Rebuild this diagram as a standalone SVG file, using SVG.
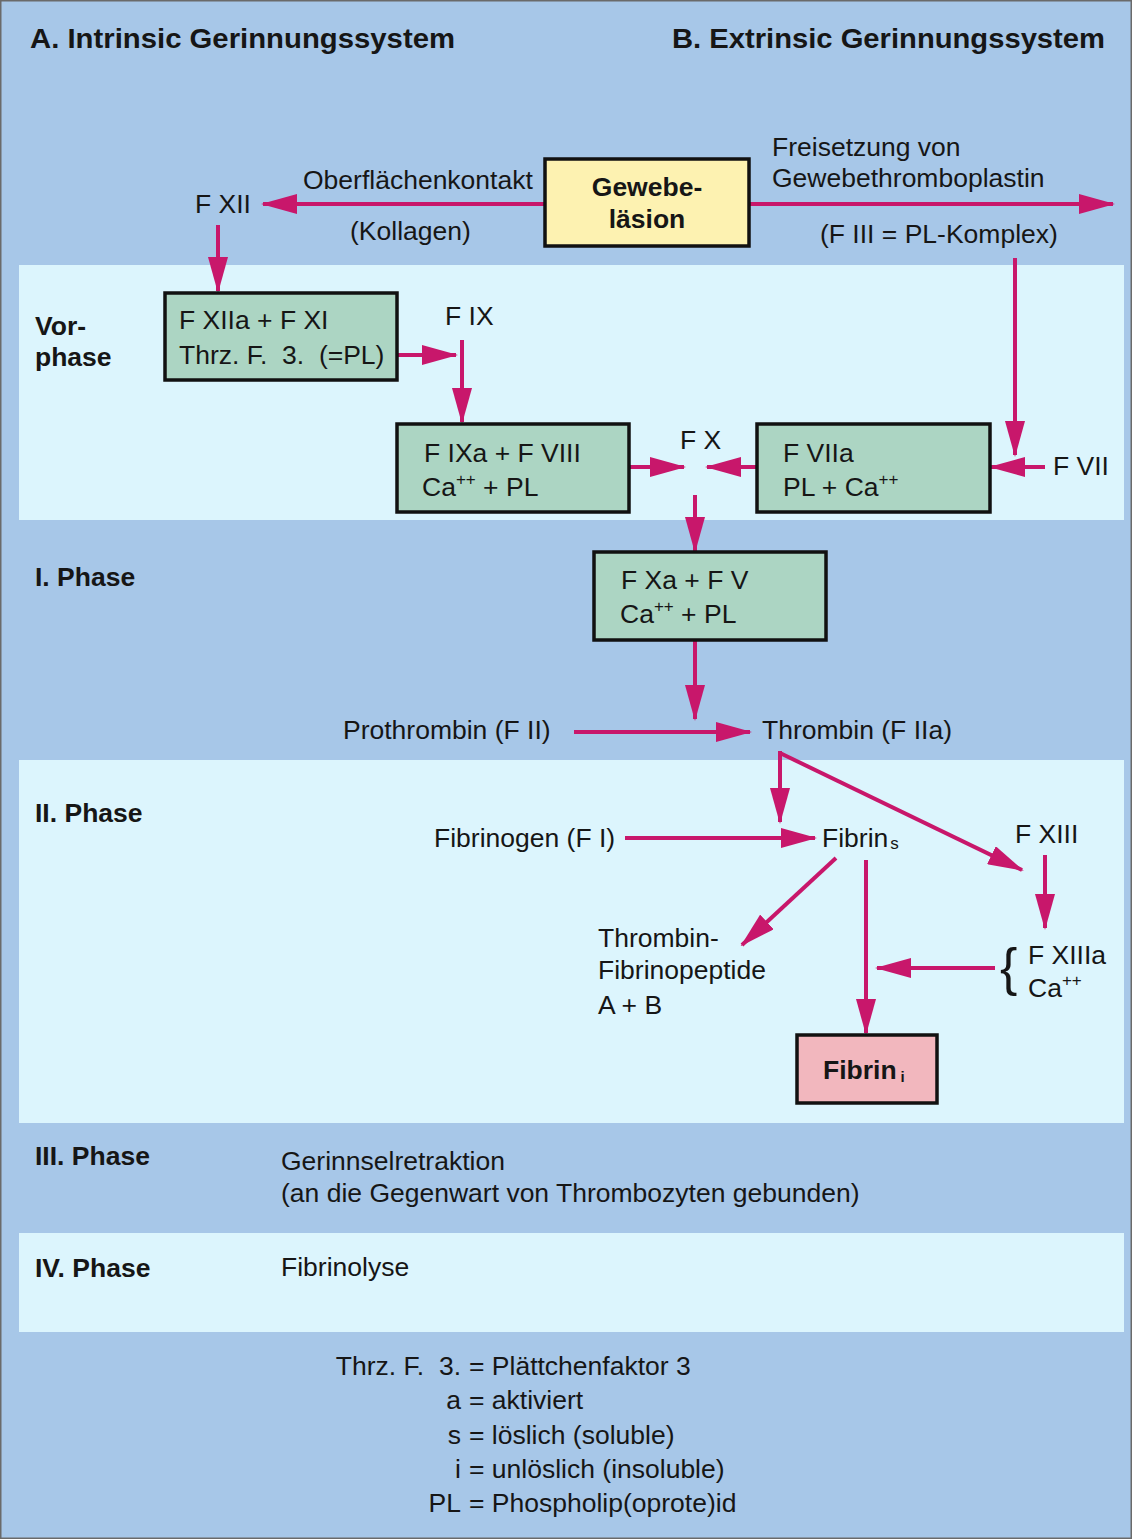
<svg xmlns="http://www.w3.org/2000/svg" width="1132" height="1539" viewBox="0 0 1132 1539">
<style>
text{font-family:"Liberation Sans",Arial,sans-serif;fill:#161616;font-size:26.5px;white-space:pre}
.b{font-weight:bold}
.t{font-size:27px;font-weight:bold}
.sup{font-size:17px}
.brace{font-size:52px}
.band{fill:#dcf5fd}
.g{fill:#acd5c3;stroke:#111;stroke-width:3.5}
.y{fill:#fdf2b1;stroke:#111;stroke-width:3.5}
.p{fill:#f2b7be;stroke:#111;stroke-width:3.5}
.c{stroke:#c8176b;stroke-width:4;fill:none}
.a{marker-end:url(#ah)}
</style>
<defs>
<marker id="ah" markerUnits="userSpaceOnUse" markerWidth="36" markerHeight="20" refX="34" refY="10" orient="auto">
<path d="M0,0 L36,10 L0,20 Z" fill="#c8176b"/>
</marker>
</defs>
<rect x="0.75" y="0.75" width="1130.5" height="1537.5" fill="#a7c7e8" stroke="#6a6a6a" stroke-width="1.5"/>
<g id="bands">
<rect class="band" x="19" y="265" width="1105" height="255"/>
<rect class="band" x="19" y="760" width="1105" height="363"/>
<rect class="band" x="19" y="1233" width="1105" height="99"/>
</g>
<g id="titles">
<text class="t" x="30" y="48" textLength="425" lengthAdjust="spacingAndGlyphs">A. Intrinsic Gerinnungssystem</text>
<text class="t" x="672" y="48" textLength="433" lengthAdjust="spacingAndGlyphs">B. Extrinsic Gerinnungssystem</text>
</g>
<g id="phases">
<text class="b" x="35" y="335">Vor-</text>
<text class="b" x="35" y="366">phase</text>
<text class="b" x="35" y="586">I. Phase</text>
<text class="b" x="35" y="822">II. Phase</text>
<text class="b" x="35" y="1165">III. Phase</text>
<text class="b" x="35" y="1277">IV. Phase</text>
</g>
<g id="connectors">
<line class="c a" x1="545" y1="204" x2="263" y2="204"/>
<line class="c a" x1="749" y1="204" x2="1113" y2="204"/>
<line class="c a" x1="218" y1="225" x2="218" y2="291"/>
<line class="c a" x1="397" y1="355" x2="456" y2="355"/>
<line class="c a" x1="462" y1="340" x2="462" y2="422"/>
<line class="c a" x1="629" y1="467" x2="684" y2="467"/>
<line class="c a" x1="757" y1="467" x2="707" y2="467"/>
<line class="c a" x1="695" y1="495" x2="695" y2="551"/>
<line class="c a" x1="1015" y1="258" x2="1015" y2="455"/>
<line class="c a" x1="1045" y1="467" x2="991" y2="467"/>
<line class="c a" x1="695" y1="641" x2="695" y2="719"/>
<line class="c a" x1="574" y1="732" x2="750" y2="732"/>
<line class="c a" x1="780" y1="751" x2="780" y2="822"/>
<path class="c a" d="M780,753 L1022,870"/>
<line class="c a" x1="625" y1="838" x2="815" y2="838"/>
<line class="c a" x1="836" y1="858" x2="742" y2="945"/>
<line class="c a" x1="866" y1="860" x2="866" y2="1033"/>
<line class="c a" x1="1045" y1="855" x2="1045" y2="928"/>
<line class="c a" x1="995" y1="968" x2="877" y2="968"/>
</g>
<g id="n-gewebe">
<rect class="y" x="545" y="159" width="204" height="87"/>
<text class="b" x="647" y="196" text-anchor="middle">Gewebe-</text>
<text class="b" x="647" y="228" text-anchor="middle">läsion</text>
</g>
<g id="n-labels-top">
<text x="195" y="213">F XII</text>
<text x="303" y="189">Oberflächenkontakt</text>
<text x="350" y="240">(Kollagen)</text>
<text x="772" y="156">Freisetzung von</text>
<text x="772" y="187">Gewebethromboplastin</text>
<text x="820" y="243">(F III = PL-Komplex)</text>
</g>
<g id="n-fxiia">
<rect class="g" x="165" y="293" width="232" height="87"/>
<text x="179" y="329">F XIIa + F XI</text>
<text x="179" y="364">Thrz. F.  3.  (=PL)</text>
</g>
<g id="n-fix"><text x="445" y="325">F IX</text></g>
<g id="n-fixa">
<rect class="g" x="397" y="424" width="232" height="88"/>
<text x="424" y="462">F IXa + F VIII</text>
<text x="422" y="496">Ca<tspan class="sup" dy="-11">++</tspan><tspan dy="11"> + PL</tspan></text>
</g>
<g id="n-fx"><text x="680" y="449">F X</text></g>
<g id="n-fviia">
<rect class="g" x="757" y="424" width="233" height="88"/>
<text x="783" y="462">F VIIa</text>
<text x="783" y="496">PL + Ca<tspan class="sup" dy="-11">++</tspan></text>
</g>
<g id="n-fvii"><text x="1053" y="475">F VII</text></g>
<g id="n-fxa">
<rect class="g" x="594" y="552" width="232" height="88"/>
<text x="621" y="589">F Xa + F V</text>
<text x="620" y="623">Ca<tspan class="sup" dy="-11">++</tspan><tspan dy="11"> + PL</tspan></text>
</g>
<g id="n-prothrombin"><text x="343" y="739">Prothrombin (F II)</text></g>
<g id="n-thrombin"><text x="762" y="739">Thrombin (F IIa)</text></g>
<g id="n-fibrinogen"><text x="434" y="847">Fibrinogen (F I)</text></g>
<g id="n-fibrins"><text x="822" y="847">Fibrin<tspan font-size="17" dx="2" dy="2">s</tspan></text></g>
<g id="n-fxiii"><text x="1015" y="843">F XIII</text></g>
<g id="n-peptide">
<text x="598" y="947">Thrombin-</text>
<text x="598" y="979">Fibrinopeptide</text>
<text x="598" y="1014">A + B</text>
</g>
<g id="n-fxiiia">
<text class="brace" x="1000" y="985">{</text>
<text x="1028" y="964">F XIIIa</text>
<text x="1028" y="997">Ca<tspan class="sup" dy="-11">++</tspan></text>
</g>
<g id="n-fibrini">
<rect class="p" x="797" y="1035" width="140" height="68"/>
<text class="b" x="823" y="1079">Fibrin<tspan font-size="15" dx="4" dy="3">i</tspan></text>
</g>
<g id="phase-texts">
<text x="281" y="1170">Gerinnselretraktion</text>
<text x="281" y="1202">(an die Gegenwart von Thrombozyten gebunden)</text>
<text x="281" y="1276">Fibrinolyse</text>
</g>
<g id="legend">
<text x="461" y="1375" text-anchor="end">Thrz. F.  3.</text><text x="469" y="1375">= Plättchenfaktor 3</text>
<text x="461" y="1409" text-anchor="end">a</text><text x="469" y="1409">= aktiviert</text>
<text x="461" y="1444" text-anchor="end">s</text><text x="469" y="1444">= löslich (soluble)</text>
<text x="461" y="1478" text-anchor="end">i</text><text x="469" y="1478">= unlöslich (insoluble)</text>
<text x="461" y="1512" text-anchor="end">PL</text><text x="469" y="1512">= Phospholip(oprote)id</text>
</g>
</svg>
